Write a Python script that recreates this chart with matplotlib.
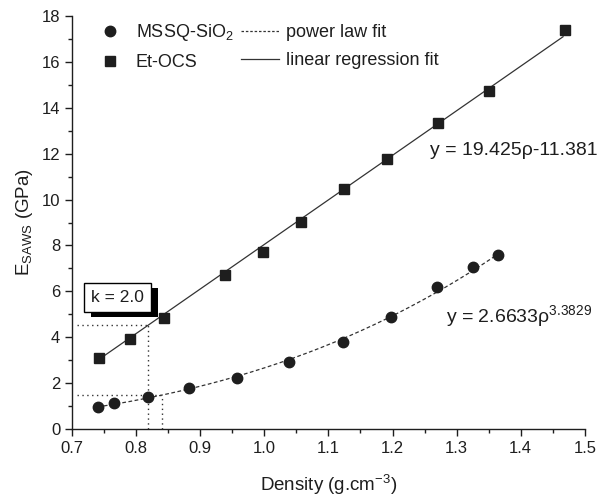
import numpy as np
import matplotlib
matplotlib.use("Agg")
import matplotlib.pyplot as plt
import matplotlib.patheffects as pe
from matplotlib.lines import Line2D
from matplotlib.ticker import MultipleLocator

plt.rcParams["font.family"] = ["Liberation Sans", "DejaVu Sans"]
plt.rcParams["mathtext.fontset"] = "custom"
plt.rcParams["mathtext.rm"] = "Liberation Sans"
plt.rcParams["mathtext.it"] = "Liberation Sans:italic"
plt.rcParams["mathtext.bf"] = "Liberation Sans:bold"

# Measured Young's modulus vs density
mssq_density = [0.740, 0.766, 0.819, 0.882, 0.957, 1.039, 1.122, 1.197, 1.270, 1.325, 1.364]
mssq_modulus = [0.97, 1.12, 1.38, 1.77, 2.21, 2.91, 3.79, 4.90, 6.18, 7.05, 7.58]

etocs_density = [0.742, 0.790, 0.844, 0.939, 0.998, 1.058, 1.124, 1.192, 1.271, 1.351, 1.469]
etocs_modulus = [3.11, 3.92, 4.85, 6.70, 7.70, 9.04, 10.48, 11.77, 13.35, 14.75, 17.39]

# Fit parameters
lin_slope, lin_icpt = 19.425, -11.381
pow_coef, pow_exp = 2.6633, 3.3829

# k = 2.0 read-off densities
k_density_etocs = 0.819
k_density_mssq = 0.840

ink = "#1e1e1e"

fig = plt.figure(figsize=(5.98, 4.97), dpi=100)
ax = fig.add_axes([0.1204, 0.1368, 0.8576, 0.831])

rho_lin = np.linspace(min(etocs_density), 1.466, 100)
rho_pow = np.linspace(min(mssq_density), max(mssq_density), 200)

ax.plot(rho_lin, lin_slope * rho_lin + lin_icpt, color="#333333", lw=0.9, zorder=2)
ax.plot(rho_pow, pow_coef * rho_pow ** pow_exp, color="#333333", lw=0.9,
        linestyle=(0, (3, 2)), zorder=2)

ax.plot(mssq_density, mssq_modulus, "o", color=ink, ms=7.5, zorder=3)
ax.plot(etocs_density, etocs_modulus, "s", color=ink, ms=6.5, zorder=3)

# Dotted read-off guides for k = 2.0
e_lin_k = lin_slope * k_density_etocs + lin_icpt
e_pow_k = pow_coef * k_density_mssq ** pow_exp
guide = dict(color="#333333", lw=1.0, linestyle=(0, (1, 2.5)), zorder=1)
ax.plot([0.708, k_density_etocs], [e_lin_k, e_lin_k], **guide)
ax.plot([k_density_etocs, k_density_etocs], [0, e_lin_k], **guide)
ax.plot([0.708, k_density_mssq], [e_pow_k, e_pow_k], **guide)
ax.plot([k_density_mssq, k_density_mssq], [0, e_pow_k], **guide)

kt = ax.text(0.7714, 5.75, "k = 2.0", fontsize=12.5, color=ink, ha="center", va="center",
             bbox=dict(boxstyle="square,pad=0.4", fc="white", ec="black", lw=1.0), zorder=4)
kt.get_bbox_patch().set_path_effects([
    pe.SimplePatchShadow(offset=(5, -3.6), shadow_rgbFace="black", alpha=1.0),
    pe.Normal(),
])

ax.text(1.258, 12.16, "y = 19.425ρ-11.381", fontsize=14, color=ink, ha="left",
        va="center", clip_on=False)
ax.text(1.283, 4.92, "y = 2.6633ρ$^{3.3829}$", fontsize=14, color=ink, ha="left",
        va="center", clip_on=False)

handles = [
    Line2D([], [], marker="o", ls="none", color=ink, ms=7.5),
    Line2D([], [], marker="s", ls="none", color=ink, ms=6.5),
    Line2D([], [], color="#333333", lw=0.9, linestyle=(0, (2, 1.5))),
    Line2D([], [], color="#333333", lw=0.9),
]
labels = ["MSSQ-SiO$_2$", "Et-OCS", "power law fit", "linear regression fit"]
leg = ax.legend(handles, labels, ncol=2, loc="upper left", bbox_to_anchor=(0.038, 0.985),
                frameon=False, fontsize=13, handlelength=2.1, handletextpad=0.35,
                columnspacing=0.45, labelspacing=0.6, borderpad=0, borderaxespad=0)
for t in leg.get_texts():
    t.set_color(ink)

ax.set_xlim(0.7, 1.5)
ax.set_ylim(0, 18)
ax.xaxis.set_major_locator(MultipleLocator(0.1))
ax.xaxis.set_minor_locator(MultipleLocator(0.05))
ax.yaxis.set_major_locator(MultipleLocator(2))
ax.yaxis.set_minor_locator(MultipleLocator(1))
ax.set_xticks(np.round(np.arange(0.7, 1.51, 0.1), 1))
ax.set_xticklabels([f"{v:.1f}" for v in np.arange(0.7, 1.51, 0.1)])

for s in ("top", "right"):
    ax.spines[s].set_visible(False)
for s in ("left", "bottom"):
    ax.spines[s].set_linewidth(1.0)
    ax.spines[s].set_color(ink)

ax.tick_params(which="major", direction="out", length=5, width=1.0, labelsize=12,
               colors=ink)
ax.tick_params(which="minor", direction="out", length=3, width=1.0, colors=ink)

ax.set_xlabel("Density (g.cm$^{-3}$)", fontsize=13.5, color=ink, labelpad=12)
ax.set_ylabel("E$_{\\mathrm{SAWS}}$ (GPa)", fontsize=13.5, color=ink, labelpad=5)

fig.savefig("out.png", dpi=100)
